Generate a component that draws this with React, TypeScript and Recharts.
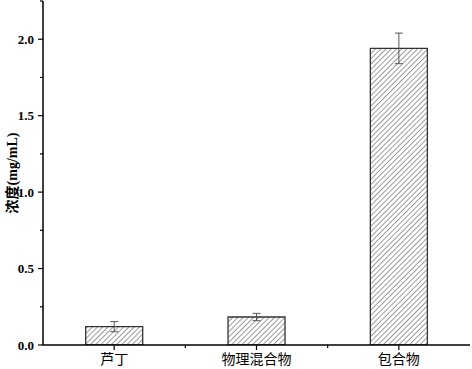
import { BarChart, Bar, XAxis, YAxis, ErrorBar, Label } from "recharts"

const categories = ["芦丁", "物理混合物", "包合物"]
const concentration = [0.12, 0.183, 1.94]
const errors = [0.033, 0.024, 0.1]
const yTicks = [0, 0.25, 0.5, 0.75, 1.0, 1.25, 1.5, 1.75, 2.0, 2.25]

const data = categories.map((name, i) => ({
  name,
  value: concentration[i],
  err: errors[i],
}))

const YTick = (props: any) => {
  const { x, y, payload } = props
  const v = payload.value
  const major = Math.abs(v * 2 - Math.round(v * 2)) < 1e-6
  const ax = x + 9
  return (
    <g>
      <line x1={ax} x2={ax - (major ? 5 : 3)} y1={y} y2={y} stroke="#000" strokeWidth={1.2} />
      {major && (
        <text
          x={x}
          y={y}
          dy={4.5}
          textAnchor="end"
          fontFamily="'Liberation Serif', serif"
          fontWeight="bold"
          fontSize={13}
          fill="#000"
        >
          {v.toFixed(1)}
        </text>
      )}
    </g>
  )
}

// major tick at the category, minor tick halfway to the next one
const XTick = (props: any) => {
  const { x, y, payload, index, visibleTicksCount } = props
  const half = payload.offset || 0
  const ay = y - 7
  return (
    <g>
      <line x1={x} x2={x} y1={ay} y2={ay + 5} stroke="#000" strokeWidth={1.2} />
      {index < visibleTicksCount - 1 && half > 0 && (
        <line x1={x + half} x2={x + half} y1={ay} y2={ay + 3} stroke="#000" strokeWidth={1.2} />
      )}
      <text
        x={x}
        y={y}
        dy={12}
        textAnchor="middle"
        fontFamily="'Noto Sans CJK SC', sans-serif"
        fontSize={14}
        fill="#000"
      >
        {payload.value}
      </text>
    </g>
  )
}

export default function App() {
  return (
    <div style={{ position: "absolute", left: 0, top: 0 }}>
      <BarChart
        width={472}
        height={369}
        data={data}
        margin={{ top: 1, right: 2, left: 0, bottom: 0 }}
        barCategoryGap="30%"
      >
        <defs>
          <pattern id="hatch" patternUnits="userSpaceOnUse" width={3.7} height={3.7} patternTransform="rotate(45)">
            <rect width={3.7} height={3.7} fill="#fff" />
            <line x1={0} y1={0} x2={0} y2={3.7} stroke="#3a3a3a" strokeWidth={1} />
          </pattern>
        </defs>
        <XAxis
          dataKey="name"
          height={24}
          axisLine={{ stroke: "#000", strokeWidth: 1.5 }}
          tickLine={false}
          tickSize={5}
          tickMargin={2}
          tick={<XTick />}
        />
        <YAxis
          width={43}
          domain={[0, 2.25]}
          ticks={yTicks}
          interval={0}
          allowDataOverflow
          axisLine={{ stroke: "#000", strokeWidth: 1.5 }}
          tickLine={false}
          tickSize={6}
          tickMargin={3}
          tick={<YTick />}
        >
          <Label
            value="浓度(mg/mL)"
            angle={-90}
            position="insideLeft"
            offset={12}
            style={{
              textAnchor: "middle",
              fontWeight: "bold",
              fontSize: 14,
              fill: "#000",
              fontFamily: "'Liberation Serif', 'Noto Sans CJK SC', serif",
            }}
          />
        </YAxis>
        <Bar dataKey="value" fill="url(#hatch)" stroke="#333" strokeWidth={1.3} isAnimationActive={false}>
          <ErrorBar dataKey="err" width={4} stroke="#555" strokeWidth={1} direction="y" />
        </Bar>
      </BarChart>
    </div>
  )
}
